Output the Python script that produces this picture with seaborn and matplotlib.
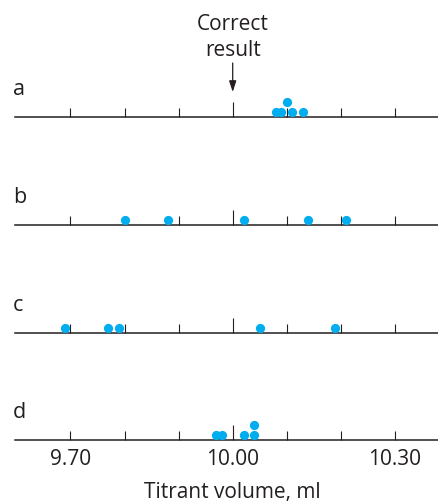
import matplotlib
matplotlib.use("Agg")
import matplotlib.pyplot as plt
import matplotlib.transforms as mtransforms
import seaborn as sns
import pandas as pd

# Titrant volume readings (ml) for each student, plus dot-plot stack level
row_names = ["a", "b", "c", "d"]
a_vals = [10.08, 10.09, 10.10, 10.11, 10.13]
a_stack = [0, 0, 1, 0, 0]
b_vals = [9.80, 9.88, 10.02, 10.14, 10.21]
b_stack = [0, 0, 0, 0, 0]
c_vals = [9.69, 9.77, 9.79, 10.05, 10.19]
c_stack = [0, 0, 0, 0, 0]
d_vals = [9.97, 9.98, 10.02, 10.04, 10.04]
d_stack = [0, 0, 0, 0, 1]

tick_vals = [9.70, 9.80, 9.90, 10.00, 10.10, 10.20, 10.30]
tick_labels = ["9.70", "", "", "10.00", "", "", "10.30"]
correct_value = 10.00
x_label = "Titrant volume, ml"

# tabla larga para seaborn
df = pd.concat([
    pd.DataFrame({"row": r, "volume": v, "stack": s})
    for r, v, s in zip(row_names, [a_vals, b_vals, c_vals, d_vals],
                       [a_stack, b_stack, c_stack, d_stack])
])

sns.set_theme(style="white")
plt.rcParams["font.family"] = ["Open Sans", "DejaVu Sans"]

INK = "#231f20"
DOT = "#00aeef"
FS = 15
W, H = 438, 502
fig = plt.figure(figsize=(W / 100, H / 100), dpi=100)

baselines = [118, 226, 334, 441]   # pixel rows of the axis lines
left_px = 15
xlim = (10.0 - (232.7 - left_px) / 541, 10.0 + (W - 232.7) / 541)

axes = []
for i, (name, base) in enumerate(zip(row_names, baselines)):
    ax = fig.add_axes([left_px / W, 1 - base / H, 1 - left_px / W, 40 / H])
    sub = df[df["row"] == name]
    sns.scatterplot(data=sub, x="volume", y="stack", ax=ax, color=DOT,
                    s=44, linewidth=0, clip_on=False, zorder=3, legend=False)
    ax.set_xlim(*xlim)
    ax.set_ylim(-0.5, 3.5)
    for sp in ["top", "left", "right"]:
        ax.spines[sp].set_visible(False)
    ax.spines["bottom"].set_color(INK)
    ax.spines["bottom"].set_linewidth(1.1)
    ax.set_yticks([])
    ax.set_ylabel("")
    ax.set_xlabel("")
    ax.set_xticks(tick_vals)
    if i == len(row_names) - 1:
        ax.set_xticklabels(tick_labels)
    else:
        ax.set_xticklabels([""] * len(tick_vals))
    ax.tick_params(axis="x", direction="in", length=6.5, width=0.8,
                   color=INK, labelcolor=INK, labelsize=FS, pad=6, bottom=True)
    # taller tick at the correct value
    ax.xaxis.get_major_ticks()[tick_vals.index(correct_value)].tick1line.set_markersize(11)
    ax.patch.set_visible(False)
    fig.text(13 / W, 1 - (base - 23) / H, name, fontsize=FS + 0.5, color=INK,
             ha="left", va="baseline")
    axes.append(ax)

# arrow and label for the correct result
trans = mtransforms.blended_transform_factory(axes[0].transData, fig.transFigure)
axes[0].text(correct_value, 1 - 30 / H, "Correct", transform=trans,
             ha="center", va="baseline", fontsize=FS, color=INK)
axes[0].text(correct_value, 1 - 56 / H, "result", transform=trans,
             ha="center", va="baseline", fontsize=FS, color=INK)
axes[0].annotate("", xy=(correct_value, 1 - 93 / H), xycoords=trans,
                 xytext=(correct_value, 1 - 64 / H), textcoords=trans,
                 arrowprops=dict(arrowstyle="-|>,head_length=0.55,head_width=0.18",
                                 color=INK, lw=0.9, shrinkA=0, shrinkB=0))

fig.text((left_px + (W - left_px) * (10.0 - xlim[0]) / (xlim[1] - xlim[0])) / W,
         1 - 498 / H, x_label, ha="center", va="baseline", fontsize=FS, color=INK)

plt.savefig("out.png", dpi=100)
plt.close()
